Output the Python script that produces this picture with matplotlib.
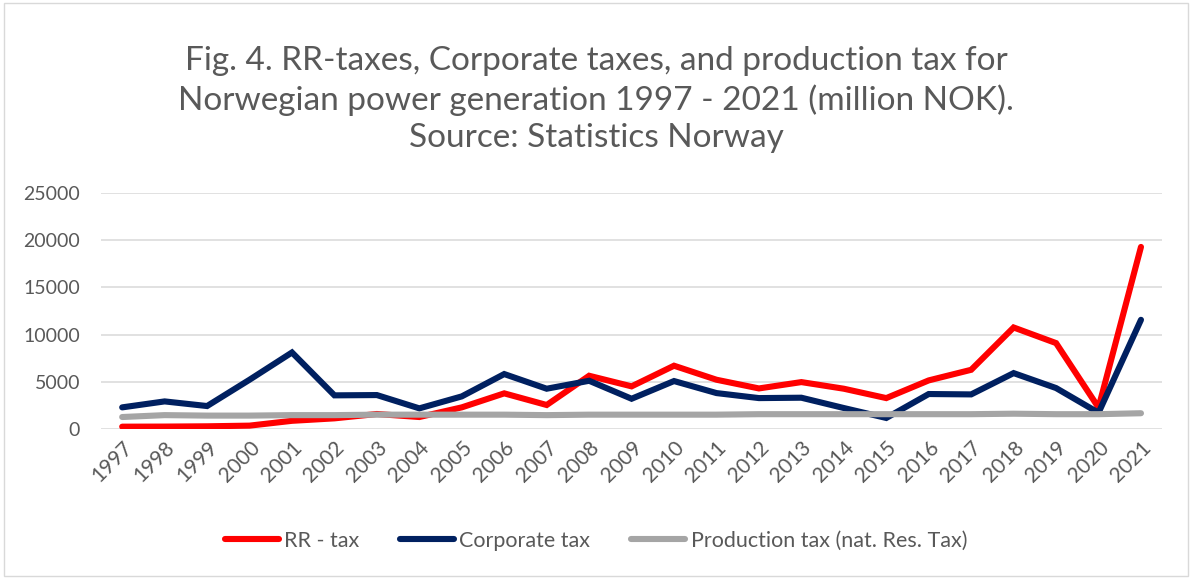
import matplotlib
matplotlib.use("Agg")
import matplotlib.pyplot as plt
from matplotlib.patches import Rectangle

years = [str(y) for y in range(1997, 2022)]
rr_tax = [280, 290, 320, 390, 900, 1160, 1620, 1300, 2320, 3800, 2570, 5660, 4540,
          6720, 5240, 4320, 4990, 4290, 3300, 5170, 6290, 10760, 9110, 2300, 19270]
corporate_tax = [2320, 2950, 2460, 5240, 8120, 3590, 3620, 2215, 3480, 5840, 4290, 5130, 3230,
                 5100, 3830, 3300, 3340, 2250, 1200, 3730, 3690, 5940, 4360, 1750, 11570]
production_tax = [1300, 1500, 1450, 1450, 1500, 1500, 1550, 1550, 1550, 1550, 1500, 1550, 1550,
                  1550, 1550, 1600, 1600, 1600, 1600, 1600, 1600, 1650, 1600, 1600, 1700]
series_names = ["RR - tax", "Corporate tax", "Production tax (nat. Res. Tax)"]
yticks = [0, 5000, 10000, 15000, 20000, 25000]
title = ("Fig. 4. RR-taxes, Corporate taxes, and production tax for\n"
         "Norwegian power generation 1997 - 2021 (million NOK).\n"
         "Source: Statistics Norway")

plt.rcParams['font.family'] = ['Lato', 'DejaVu Sans']
txt = '#595959'

fig = plt.figure(figsize=(11.92, 5.79), dpi=100)
fig.patches.append(Rectangle((0.003, 0.005), 0.994, 0.99, transform=fig.transFigure,
                             fill=False, edgecolor='#D9D9D9', lw=1.0))
ax = fig.add_axes([0.0847, 0.2585, 0.975 - 0.0847, 0.6672 - 0.2585])

x = list(range(len(years)))
ax.plot(x, rr_tax, color='#FF0000', lw=4.4, solid_capstyle='round', solid_joinstyle='miter', label=series_names[0], zorder=3)
ax.plot(x, corporate_tax, color='#002060', lw=4.4, solid_capstyle='round', solid_joinstyle='miter', label=series_names[1], zorder=4)
ax.plot(x, production_tax, color='#A5A5A5', lw=4.4, solid_capstyle='round', label=series_names[2], zorder=5)

ax.set_xlim(-0.5, len(years) - 0.5)
ax.set_ylim(0, 25000)
ax.set_yticks(yticks)
ax.set_yticklabels([str(v) for v in yticks])
ax.set_xticks(x)
ax.set_xticklabels(years, rotation=45, ha='right', rotation_mode='anchor')
ax.grid(axis='y', color='#D9D9D9', lw=1.1)
ax.set_axisbelow(True)
for s in ax.spines.values():
    s.set_visible(False)
ax.tick_params(axis='both', length=0, colors=txt)
ax.tick_params(axis='x', labelsize=15, pad=6)
ax.tick_params(axis='y', labelsize=14, pad=15)

fig.text(0.5, 0.828, title, ha='center', va='center', fontsize=24, color=txt, linespacing=1.3)

leg = fig.legend(loc='center', bbox_to_anchor=(0.5, 0.066), ncol=3, frameon=False,
                 fontsize=15.5, handlelength=2.5, handletextpad=0.25, columnspacing=1.9)
for t in leg.get_texts():
    t.set_color(txt)
for h in leg.get_lines():
    h.set_linewidth(4.4)
    h.set_solid_capstyle('round')

fig.savefig('out.png', dpi=100)
